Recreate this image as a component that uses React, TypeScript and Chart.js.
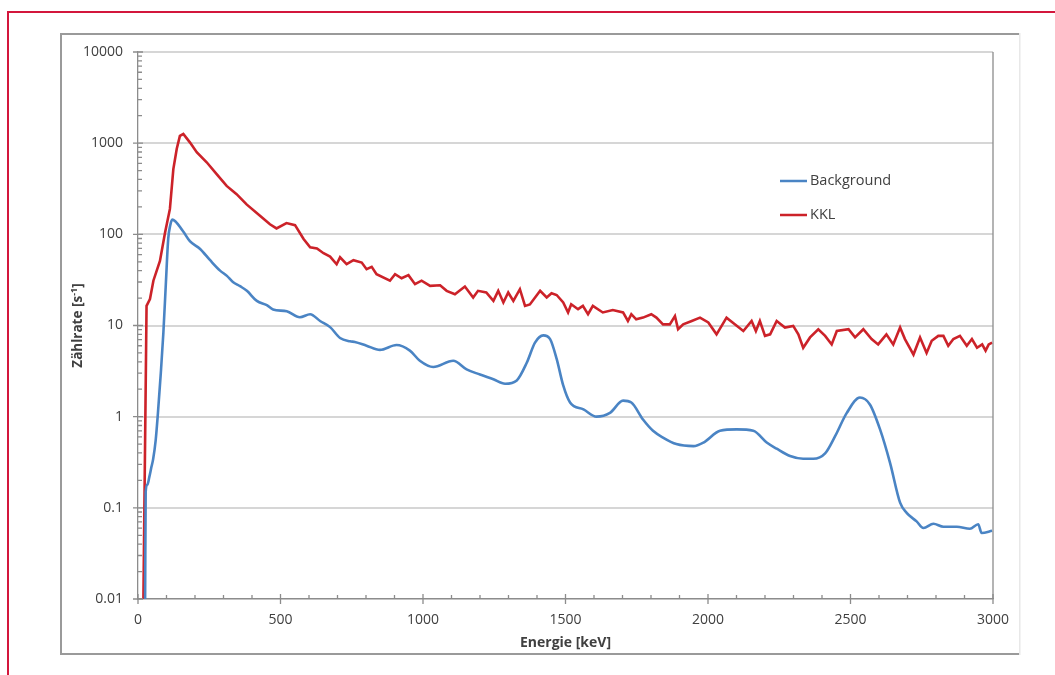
import React, { useEffect, useRef } from "react";
import { Chart, registerables } from "chart.js";

Chart.register(...registerables);

// ---- data ----
const bgEnergy = [25, 27, 33, 40, 47, 53, 62, 70, 80, 89, 98, 106, 113, 120, 158, 182, 218, 253, 288, 312, 333, 358, 382, 417, 452, 474, 522, 568, 604, 639, 674, 709, 744, 761, 802, 849, 907, 954, 989, 1036, 1106, 1153, 1200, 1247, 1288, 1329, 1364, 1393, 1422, 1446, 1469, 1492, 1516, 1563, 1609, 1656, 1702, 1731, 1772, 1807, 1842, 1889, 1949, 1984, 2042, 2101, 2159, 2206, 2241, 2288, 2334, 2369, 2411, 2446, 2487, 2533, 2568, 2604, 2639, 2674, 2697, 2732, 2756, 2791, 2826, 2873, 2919, 2948, 2960, 2997];
const bgRate = [0.01, 0.15, 0.18, 0.22, 0.28, 0.34, 0.55, 1.1, 3.0, 8.3, 30, 89, 125, 145, 108, 84, 69, 52, 40, 35, 30, 27, 24, 18.6, 16.7, 15, 14.3, 12.3, 13.3, 11.2, 9.6, 7.3, 6.7, 6.6, 6.0, 5.4, 6.1, 5.3, 4.1, 3.5, 4.1, 3.3, 2.9, 2.57, 2.3, 2.5, 3.9, 6.5, 7.8, 7.1, 4.3, 2.2, 1.43, 1.2, 1.0, 1.1, 1.5, 1.43, 0.93, 0.7, 0.59, 0.5, 0.475, 0.52, 0.7, 0.725, 0.7, 0.52, 0.445, 0.37, 0.345, 0.345, 0.395, 0.61, 1.1, 1.62, 1.36, 0.72, 0.31, 0.114, 0.088, 0.071, 0.06, 0.067, 0.062, 0.062, 0.059, 0.066, 0.053, 0.056];

const kklEnergy = [19, 30, 42, 54, 77, 95, 112, 124, 136, 147, 159, 182, 206, 241, 276, 311, 346, 381, 428, 463, 486, 521, 551, 581, 604, 628, 651, 674, 697, 709, 732, 756, 785, 802, 820, 837, 884, 902, 925, 949, 972, 995, 1025, 1060, 1083, 1112, 1147, 1176, 1193, 1222, 1247, 1264, 1282, 1299, 1317, 1340, 1358, 1375, 1411, 1434, 1451, 1469, 1492, 1509, 1520, 1544, 1561, 1579, 1596, 1631, 1666, 1702, 1719, 1731, 1748, 1772, 1801, 1819, 1842, 1866, 1884, 1895, 1913, 1943, 1972, 2001, 2030, 2065, 2094, 2124, 2153, 2168, 2182, 2200, 2218, 2241, 2270, 2299, 2317, 2334, 2358, 2387, 2411, 2434, 2452, 2493, 2516, 2545, 2574, 2597, 2626, 2650, 2674, 2691, 2721, 2744, 2767, 2785, 2808, 2826, 2843, 2861, 2884, 2908, 2926, 2944, 2962, 2974, 2985, 2997];
const kklRate = [0.01, 16.4, 19.5, 31, 51, 105, 190, 520, 870, 1200, 1260, 1020, 795, 617, 458, 340, 276, 213, 160, 129, 116, 133, 126, 89, 72, 70, 62, 57, 47, 56, 47, 52, 49, 41.5, 44, 36.6, 31, 36.6, 33, 35.7, 28.4, 31, 27.2, 27.6, 24, 22, 26.8, 20.3, 24, 23, 18.6, 24, 17.9, 23, 18.6, 25, 16.4, 17, 24, 20.3, 22.6, 21.6, 17.9, 13.9, 17.1, 15.1, 16.4, 13.3, 16.4, 13.9, 14.8, 13.9, 11.2, 13.3, 11.7, 12.2, 13.3, 12.2, 10.3, 10.3, 12.7, 9.1, 10.3, 11.2, 12.2, 10.8, 8.0, 12.2, 10.3, 8.7, 11.2, 8.7, 11.2, 7.7, 8.0, 11.2, 9.5, 9.9, 8.0, 5.7, 7.4, 9.1, 7.7, 6.2, 8.7, 9.1, 7.4, 9.1, 7.1, 6.2, 8.0, 6.2, 9.5, 7.1, 4.8, 7.4, 5.0, 6.8, 7.7, 7.7, 6.0, 7.1, 7.7, 6.0, 7.1, 5.7, 6.2, 5.3, 6.2, 6.5];

const seriesLabels = ["Background", "KKL"];
const yTickValues = [0.01, 0.1, 1, 10, 100, 1000, 10000];
const yTickLabels = ["0.01", "0.1", "1", "10", "100", "1000", "10000"];
const xTickValues = [0, 500, 1000, 1500, 2000, 2500, 3000];
const xMinorStep = 100;
const xTitle = "Energie [keV]";
const yTitleMain = "Zählrate [s";
const yTitleSup = "-1";
const yTitleEnd = "]";

const FONT = "'Open Sans', 'Liberation Sans', sans-serif";
const TEXT = "#404040";
const AXIS = "#8c8c8c";

const decorPlugin = {
  id: "decor",
  beforeDraw(chart: any) {
    const ctx = chart.ctx;
    ctx.save();
    ctx.fillStyle = "#ffffff";
    ctx.fillRect(0, 0, chart.width, chart.height);
    // outer red frame
    ctx.fillStyle = "#d3173c";
    ctx.fillRect(7, 11, chart.width - 7, 2);
    ctx.fillRect(7, 11, 2, chart.height - 11);
    // chart frame
    ctx.fillStyle = "#9a9a9a";
    ctx.fillRect(61, 33, 959, 2);
    ctx.fillRect(60, 33, 2, 622);
    ctx.fillRect(60, 653, 960, 2);
    ctx.fillStyle = "#e8e8e8";
    ctx.fillRect(1019, 33, 1.5, 622);
    ctx.restore();
  },
  afterDraw(chart: any) {
    const ctx = chart.ctx;
    const ca = chart.chartArea;
    const xs = chart.scales.x;
    const ys = chart.scales.y;
    ctx.save();
    ctx.strokeStyle = AXIS;
    ctx.lineWidth = 1.3;
    // right plot border
    ctx.beginPath();
    ctx.moveTo(ca.right, ca.top);
    ctx.lineTo(ca.right, ca.bottom);
    ctx.stroke();
    // y ticks
    ctx.beginPath();
    for (let e = -2; e <= 4; e++) {
      const base = Math.pow(10, e);
      const py = ys.getPixelForValue(base);
      ctx.moveTo(ca.left - 5, py);
      ctx.lineTo(ca.left + 5, py);
      if (e < 4) {
        for (let m = 2; m <= 9; m++) {
          const p = ys.getPixelForValue(base * m);
          ctx.moveTo(ca.left, p);
          ctx.lineTo(ca.left + 4, p);
        }
      }
    }
    // x ticks
    for (let v = 0; v <= 3000; v += xMinorStep) {
      const px = xs.getPixelForValue(v);
      if (v % 500 === 0) {
        ctx.moveTo(px, ca.bottom - 5);
        ctx.lineTo(px, ca.bottom + 5);
      } else {
        ctx.moveTo(px, ca.bottom - 4);
        ctx.lineTo(px, ca.bottom);
      }
    }
    ctx.stroke();

    // axis titles
    ctx.fillStyle = TEXT;
    ctx.font = `bold 14px ${FONT}`;
    ctx.textAlign = "center";
    ctx.textBaseline = "middle";
    ctx.fillText(xTitle, (ca.left + ca.right) / 2, 643);

    ctx.save();
    ctx.translate(78, (ca.top + ca.bottom) / 2);
    ctx.rotate(-Math.PI / 2);
    ctx.font = `bold 13.5px ${FONT}`;
    const w1 = ctx.measureText(yTitleMain).width;
    ctx.font = `bold 9px ${FONT}`;
    const w2 = ctx.measureText(yTitleSup).width;
    ctx.font = `bold 13.5px ${FONT}`;
    const w3 = ctx.measureText(yTitleEnd).width;
    const total = w1 + w2 + w3;
    let x0 = -total / 2;
    ctx.textAlign = "left";
    ctx.fillText(yTitleMain, x0, 0);
    x0 += w1;
    ctx.font = `bold 9px ${FONT}`;
    ctx.fillText(yTitleSup, x0, -4);
    x0 += w2;
    ctx.font = `bold 13.5px ${FONT}`;
    ctx.fillText(yTitleEnd, x0, 0);
    ctx.restore();

    // legend
    const ds = chart.data.datasets;
    const ly = [181, 215];
    ctx.font = `14.5px ${FONT}`;
    ctx.textAlign = "left";
    ctx.textBaseline = "middle";
    ds.forEach((d: any, i: number) => {
      ctx.strokeStyle = d.borderColor;
      ctx.lineWidth = 2.5;
      ctx.beginPath();
      ctx.moveTo(780, ly[i]);
      ctx.lineTo(807, ly[i]);
      ctx.stroke();
      ctx.fillStyle = TEXT;
      ctx.fillText(d.label, 810, ly[i]);
    });
    ctx.restore();
  },
};

export default function App() {
  const ref = useRef<HTMLCanvasElement>(null);
  useEffect(() => {
    const canvas = ref.current!;
    const chart = new Chart(canvas, {
      type: "line",
      data: {
        datasets: [
          {
            label: seriesLabels[0],
            data: bgEnergy.map((e, i) => ({ x: e, y: bgRate[i] })),
            borderColor: "#4a84c4",
            borderWidth: 2.6,
            pointRadius: 0,
            cubicInterpolationMode: "monotone",
            fill: false,
          },
          {
            label: seriesLabels[1],
            data: kklEnergy.map((e, i) => ({ x: e, y: kklRate[i] })),
            borderColor: "#cc2229",
            borderWidth: 2.6,
            pointRadius: 0,
            tension: 0,
            fill: false,
          },
        ],
      },
      options: {
        responsive: false,
        animation: false,
        devicePixelRatio: 1,
        layout: { padding: { left: 0, right: 62, top: 52, bottom: 0 } },
        plugins: { legend: { display: false }, tooltip: { enabled: false } },
        scales: {
          x: {
            type: "linear",
            min: 0,
            max: 3000,
            afterBuildTicks: (s: any) => {
              s.ticks = xTickValues.map((v) => ({ value: v }));
            },
            afterFit: (s: any) => {
              s.height = 76;
            },
            grid: { display: false, drawTicks: false },
            border: { display: true, color: AXIS, width: 1.3 },
            ticks: {
              padding: 13,
              maxRotation: 0,
              autoSkip: false,
              color: TEXT,
              font: { family: FONT, size: 14 },
              callback: (v: any) => String(v),
            },
          },
          y: {
            type: "logarithmic",
            min: 0.01,
            max: 10000,
            afterBuildTicks: (s: any) => {
              s.ticks = yTickValues.map((v) => ({ value: v }));
            },
            afterFit: (s: any) => {
              s.width = 138;
            },
            grid: { color: "#d6d6d6", lineWidth: 2, drawTicks: false },
            border: { display: true, color: AXIS, width: 1.3 },
            ticks: {
              padding: 15,
              autoSkip: false,
              color: TEXT,
              font: { family: FONT, size: 14 },
              callback: (_v: any, i: number) => yTickLabels[i],
            },
          },
        },
      },
      plugins: [decorPlugin],
    } as any);
    return () => chart.destroy();
  }, []);
  return (
    <canvas
      ref={ref}
      width={1055}
      height={675}
      style={{ position: "fixed", left: 0, top: 0, width: 1055, height: 675 }}
    />
  );
}
